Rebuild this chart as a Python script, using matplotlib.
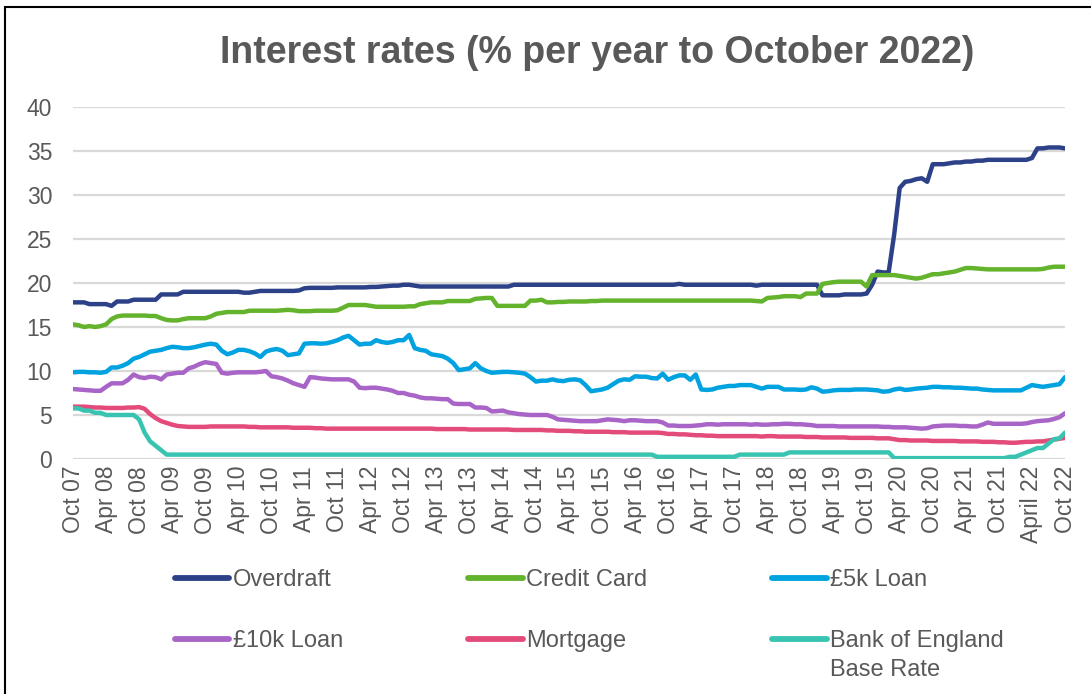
import numpy as np
import matplotlib.pyplot as plt
from matplotlib.patches import Rectangle

plt.rcParams['font.family'] = ['Liberation Sans', 'DejaVu Sans']

# Monthly values, Oct 2007 .. Oct 2022 (one row = Oct..Sep)
overdraft = [
    17.8, 17.8, 17.8, 17.6, 17.6, 17.6, 17.6, 17.4, 17.9, 17.9, 17.9, 18.1,
    18.1, 18.1, 18.1, 18.1, 18.7, 18.7, 18.7, 18.7, 19.0, 19.0, 19.0, 19.0,
    19.0, 19.0, 19.0, 19.0, 19.0, 19.0, 19.0, 18.9, 18.9, 19.0, 19.1, 19.1,
    19.1, 19.1, 19.1, 19.1, 19.1, 19.15, 19.4, 19.45, 19.45, 19.45, 19.45, 19.45,
    19.5, 19.5, 19.5, 19.5, 19.5, 19.5, 19.55, 19.55, 19.6, 19.65, 19.7, 19.7,
    19.8, 19.8, 19.7, 19.6, 19.6, 19.6, 19.6, 19.6, 19.6, 19.6, 19.6, 19.6,
    19.6, 19.6, 19.6, 19.6, 19.6, 19.6, 19.6, 19.6, 19.8, 19.8, 19.8, 19.8,
    19.8, 19.8, 19.8, 19.8, 19.8, 19.8, 19.8, 19.8, 19.8, 19.8, 19.8, 19.8,
    19.8, 19.8, 19.8, 19.8, 19.8, 19.8, 19.8, 19.8, 19.8, 19.8, 19.8, 19.8,
    19.8, 19.8, 19.9, 19.8, 19.8, 19.8, 19.8, 19.8, 19.8, 19.8, 19.8, 19.8,
    19.8, 19.8, 19.8, 19.8, 19.7, 19.8, 19.8, 19.8, 19.8, 19.8, 19.8, 19.8,
    19.8, 19.8, 19.8, 19.8, 18.6, 18.6, 18.6, 18.6, 18.7, 18.7, 18.7, 18.7,
    18.8, 19.8, 21.3, 21.2, 21.2, 25.5, 30.8, 31.5, 31.6, 31.8, 31.9, 31.5,
    33.5, 33.5, 33.5, 33.6, 33.7, 33.7, 33.8, 33.8, 33.9, 33.9, 34.0, 34.0,
    34.0, 34.0, 34.0, 34.0, 34.0, 34.0, 34.2, 35.3, 35.3, 35.4, 35.4, 35.4,
    35.3,
]
credit_card = [
    15.3, 15.2, 15.0, 15.1, 15.0, 15.1, 15.3, 15.9, 16.2, 16.3, 16.3, 16.3,
    16.3, 16.3, 16.25, 16.25, 16.0, 15.8, 15.75, 15.75, 15.9, 16.0, 16.0, 16.0,
    16.0, 16.2, 16.5, 16.6, 16.7, 16.7, 16.7, 16.7, 16.85, 16.85, 16.85, 16.85,
    16.85, 16.85, 16.9, 16.95, 16.9, 16.8, 16.8, 16.8, 16.85, 16.85, 16.85, 16.85,
    16.9, 17.2, 17.5, 17.5, 17.5, 17.5, 17.4, 17.3, 17.3, 17.3, 17.3, 17.3,
    17.3, 17.35, 17.35, 17.6, 17.7, 17.8, 17.8, 17.8, 17.95, 17.95, 17.95, 17.95,
    17.95, 18.2, 18.25, 18.3, 18.3, 17.4, 17.4, 17.4, 17.4, 17.4, 17.4, 18.0,
    18.0, 18.1, 17.8, 17.8, 17.85, 17.85, 17.9, 17.9, 17.9, 17.9, 17.95, 17.95,
    18.0, 18.0, 18.0, 18.0, 18.0, 18.0, 18.0, 18.0, 18.0, 18.0, 18.0, 18.0,
    18.0, 18.0, 18.0, 18.0, 18.0, 18.0, 18.0, 18.0, 18.0, 18.0, 18.0, 18.0,
    18.0, 18.0, 18.0, 18.0, 17.95, 17.9, 18.3, 18.35, 18.4, 18.5, 18.5, 18.5,
    18.4, 18.8, 18.8, 18.8, 19.9, 20.0, 20.1, 20.15, 20.15, 20.15, 20.15, 20.15,
    19.6, 20.9, 20.9, 20.9, 20.9, 20.9, 20.8, 20.7, 20.6, 20.5, 20.6, 20.8,
    21.0, 21.0, 21.1, 21.2, 21.3, 21.5, 21.7, 21.7, 21.65, 21.6, 21.55, 21.55,
    21.55, 21.55, 21.55, 21.55, 21.55, 21.55, 21.55, 21.55, 21.6, 21.75, 21.85, 21.85,
    21.85,
]
loan_5k = [
    9.85, 9.9, 9.9, 9.85, 9.85, 9.8, 9.9, 10.4, 10.4, 10.6, 10.9, 11.4,
    11.6, 11.9, 12.2, 12.3, 12.4, 12.6, 12.75, 12.7, 12.6, 12.6, 12.7, 12.85,
    13.0, 13.1, 13.0, 12.3, 11.9, 12.1, 12.4, 12.4, 12.25, 12.0, 11.6, 12.2,
    12.4, 12.5, 12.3, 11.8, 11.9, 12.0, 13.1, 13.15, 13.15, 13.1, 13.15, 13.3,
    13.5, 13.8, 14.0, 13.5, 13.0, 13.1, 13.1, 13.5, 13.3, 13.2, 13.3, 13.5,
    13.5, 14.1, 12.6, 12.4, 12.3, 11.9, 11.8, 11.7, 11.4, 10.9, 10.1, 10.2,
    10.3, 10.9, 10.3, 10.0, 9.8, 9.85, 9.9, 9.9, 9.85, 9.8, 9.7, 9.3,
    8.8, 8.9, 8.9, 9.05, 8.9, 8.85, 9.0, 9.05, 8.95, 8.4, 7.7, 7.8,
    7.9, 8.1, 8.5, 8.9, 9.05, 9.0, 9.4, 9.35, 9.35, 9.2, 9.15, 9.7,
    9.0, 9.3, 9.5, 9.5, 9.0, 9.6, 7.9, 7.85, 7.9, 8.1, 8.2, 8.3,
    8.3, 8.4, 8.4, 8.4, 8.2, 8.0, 8.2, 8.2, 8.2, 7.9, 7.9, 7.9,
    7.85, 7.9, 8.15, 8.0, 7.65, 7.7, 7.8, 7.85, 7.85, 7.85, 7.9, 7.9,
    7.9, 7.85, 7.8, 7.65, 7.7, 7.9, 8.0, 7.85, 7.9, 8.0, 8.05, 8.1,
    8.2, 8.2, 8.15, 8.15, 8.1, 8.1, 8.05, 8.0, 8.0, 7.9, 7.85, 7.8,
    7.8, 7.8, 7.8, 7.8, 7.8, 8.1, 8.4, 8.3, 8.2, 8.3, 8.4, 8.5,
    9.3,
]
loan_10k = [
    7.95, 7.9, 7.85, 7.8, 7.75, 7.75, 8.2, 8.6, 8.6, 8.6, 9.0, 9.6,
    9.3, 9.2, 9.35, 9.3, 9.05, 9.6, 9.7, 9.8, 9.8, 10.3, 10.5, 10.8,
    11.0, 10.9, 10.8, 9.8, 9.7, 9.8, 9.85, 9.85, 9.85, 9.85, 9.9, 10.0,
    9.4, 9.3, 9.15, 8.9, 8.6, 8.4, 8.2, 9.3, 9.25, 9.15, 9.1, 9.05,
    9.05, 9.05, 9.05, 8.8, 8.1, 8.05, 8.1, 8.1, 8.0, 7.9, 7.75, 7.5,
    7.5, 7.3, 7.2, 7.0, 6.9, 6.9, 6.85, 6.8, 6.8, 6.3, 6.25, 6.25,
    6.25, 5.85, 5.85, 5.8, 5.4, 5.45, 5.5, 5.3, 5.2, 5.1, 5.05, 5.0,
    5.0, 5.0, 5.0, 4.8, 4.5, 4.45, 4.4, 4.35, 4.3, 4.3, 4.3, 4.3,
    4.4, 4.5, 4.45, 4.4, 4.3, 4.4, 4.4, 4.35, 4.3, 4.3, 4.3, 4.15,
    3.8, 3.8, 3.75, 3.75, 3.75, 3.8, 3.85, 3.95, 3.95, 3.9, 3.95, 3.95,
    3.95, 3.95, 3.95, 3.9, 3.95, 3.9, 3.9, 3.95, 3.95, 4.0, 4.0, 3.95,
    3.95, 3.9, 3.85, 3.75, 3.75, 3.75, 3.75, 3.7, 3.7, 3.7, 3.7, 3.7,
    3.7, 3.7, 3.7, 3.65, 3.65, 3.6, 3.6, 3.6, 3.55, 3.5, 3.45, 3.5,
    3.7, 3.75, 3.8, 3.8, 3.8, 3.75, 3.75, 3.7, 3.7, 3.9, 4.15, 4.0,
    4.0, 4.0, 4.0, 4.0, 4.0, 4.05, 4.2, 4.3, 4.35, 4.4, 4.55, 4.75,
    5.2,
]
mortgage = [
    5.95, 5.95, 5.95, 5.9, 5.85, 5.85, 5.8, 5.8, 5.8, 5.8, 5.85, 5.85,
    5.9, 5.7, 5.1, 4.65, 4.3, 4.1, 3.9, 3.75, 3.7, 3.65, 3.65, 3.65,
    3.65, 3.7, 3.7, 3.7, 3.7, 3.7, 3.7, 3.7, 3.65, 3.65, 3.6, 3.6,
    3.6, 3.6, 3.6, 3.6, 3.55, 3.55, 3.55, 3.55, 3.5, 3.5, 3.45, 3.45,
    3.45, 3.45, 3.45, 3.45, 3.45, 3.45, 3.45, 3.45, 3.45, 3.45, 3.45, 3.45,
    3.45, 3.45, 3.45, 3.45, 3.45, 3.45, 3.4, 3.4, 3.4, 3.4, 3.4, 3.4,
    3.35, 3.35, 3.35, 3.35, 3.35, 3.35, 3.35, 3.35, 3.3, 3.3, 3.3, 3.3,
    3.3, 3.3, 3.25, 3.25, 3.2, 3.2, 3.2, 3.15, 3.15, 3.1, 3.1, 3.1,
    3.1, 3.1, 3.05, 3.05, 3.05, 3.0, 3.0, 3.0, 3.0, 3.0, 3.0, 2.95,
    2.85, 2.85, 2.8, 2.8, 2.75, 2.7, 2.7, 2.65, 2.65, 2.6, 2.6, 2.6,
    2.6, 2.6, 2.6, 2.6, 2.6, 2.55, 2.6, 2.6, 2.55, 2.55, 2.55, 2.55,
    2.55, 2.5, 2.5, 2.5, 2.45, 2.45, 2.45, 2.45, 2.45, 2.4, 2.4, 2.4,
    2.4, 2.4, 2.35, 2.35, 2.35, 2.25, 2.15, 2.15, 2.1, 2.1, 2.1, 2.1,
    2.05, 2.05, 2.05, 2.05, 2.05, 2.0, 2.0, 2.0, 2.0, 1.95, 1.95, 1.95,
    1.9, 1.9, 1.85, 1.85, 1.9, 1.95, 1.95, 2.0, 2.0, 2.1, 2.2, 2.3,
    2.4,
]
base_rate = [
    5.75, 5.75, 5.5, 5.5, 5.25, 5.25, 5.0, 5.0, 5.0, 5.0, 5.0, 5.0,
    4.5, 3.0, 2.0, 1.5, 1.0, 0.5, 0.5, 0.5, 0.5, 0.5, 0.5, 0.5,
    0.5, 0.5, 0.5, 0.5, 0.5, 0.5, 0.5, 0.5, 0.5, 0.5, 0.5, 0.5,
    0.5, 0.5, 0.5, 0.5, 0.5, 0.5, 0.5, 0.5, 0.5, 0.5, 0.5, 0.5,
    0.5, 0.5, 0.5, 0.5, 0.5, 0.5, 0.5, 0.5, 0.5, 0.5, 0.5, 0.5,
    0.5, 0.5, 0.5, 0.5, 0.5, 0.5, 0.5, 0.5, 0.5, 0.5, 0.5, 0.5,
    0.5, 0.5, 0.5, 0.5, 0.5, 0.5, 0.5, 0.5, 0.5, 0.5, 0.5, 0.5,
    0.5, 0.5, 0.5, 0.5, 0.5, 0.5, 0.5, 0.5, 0.5, 0.5, 0.5, 0.5,
    0.5, 0.5, 0.5, 0.5, 0.5, 0.5, 0.5, 0.5, 0.5, 0.5, 0.25, 0.25,
    0.25, 0.25, 0.25, 0.25, 0.25, 0.25, 0.25, 0.25, 0.25, 0.25, 0.25, 0.25,
    0.25, 0.5, 0.5, 0.5, 0.5, 0.5, 0.5, 0.5, 0.5, 0.5, 0.75, 0.75,
    0.75, 0.75, 0.75, 0.75, 0.75, 0.75, 0.75, 0.75, 0.75, 0.75, 0.75, 0.75,
    0.75, 0.75, 0.75, 0.75, 0.75, 0.1, 0.1, 0.1, 0.1, 0.1, 0.1, 0.1,
    0.1, 0.1, 0.1, 0.1, 0.1, 0.1, 0.1, 0.1, 0.1, 0.1, 0.1, 0.1,
    0.1, 0.1, 0.25, 0.25, 0.5, 0.75, 1.0, 1.25, 1.25, 1.75, 2.25, 2.35,
    3.0,
]

tick_labels = ["Oct 07", "Apr 08", "Oct 08", "Apr 09", "Oct 09", "Apr 10", "Oct 10",
               "Apr 11", "Oct 11", "Apr 12", "Oct 12", "Apr 13", "Oct 13", "Apr 14",
               "Oct 14", "Apr 15", "Oct 15", "Apr 16", "Oct 16", "Apr 17", "Oct 17",
               "Apr 18", "Oct 18", "Apr 19", "Oct 19", "Apr 20", "Oct 20", "Apr 21",
               "Oct 21", "April 22", "Oct 22"]

series = [
    ("Overdraft", overdraft, "#2c4188"),
    ("Credit Card", credit_card, "#63b32c"),
    ("£5k Loan", loan_5k, "#00a2df"),
    ("£10k Loan", loan_10k, "#a864c6"),
    ("Mortgage", mortgage, "#e24b7a"),
    ("Bank of England", base_rate, "#38c4b0"),
]

grey = "#595959"
W, H = 1091, 694
fig = plt.figure(figsize=(W / 100, H / 100), dpi=100)
ax = fig.add_axes([73 / W, 235 / H, 992 / W, 352 / H])

lines = []
for name, vals, col in series:
    x = np.arange(len(vals))
    ln, = ax.plot(x, vals, color=col, lw=3.2, label=name, solid_capstyle="round",
                  solid_joinstyle="round")
    lines.append(ln)

ax.set_xlim(0, len(overdraft) - 1)
ax.set_ylim(0, 40)
ax.set_yticks(range(0, 41, 5))
ax.set_xticks(np.arange(0, len(overdraft), 6))
ax.set_xticklabels(tick_labels, rotation=90)
ax.yaxis.grid(True, color="#d9d9d9", lw=1.6)
ax.set_axisbelow(True)
for s in ax.spines.values():
    s.set_visible(False)
ax.tick_params(axis="both", length=0, labelsize=16.5, colors=grey)
ax.tick_params(axis="y", pad=15)
ax.tick_params(axis="x", pad=5)

fig.text(597 / W, 1 - 53 / H, "Interest rates (% per year to October 2022)",
         ha="center", va="center", fontsize=27, fontweight="bold", color=grey)

# legend laid out row-wise (matplotlib fills columns first)
order = [0, 3, 1, 4, 2, 5]
leg = fig.legend([lines[i] for i in order], [series[i][0] for i in order],
                 loc="upper left", bbox_to_anchor=(175 / W, 1 - 569 / H),
                 ncol=3, frameon=False, fontsize=17, labelcolor=grey,
                 handlelength=2.3, handletextpad=0.15, columnspacing=5.3,
                 labelspacing=1.65, borderpad=0, borderaxespad=0)
for h in leg.legend_handles:
    h.set_linewidth(4.2)

# second line of the last legend label
fig.canvas.draw()
bb = leg.get_texts()[5].get_window_extent()
fig.text(bb.x0 / W, (bb.y0 - 29) / H, "Base Rate", fontsize=17, color=grey,
         ha="left", va="bottom")

fig.patches.append(Rectangle((5 / W, -0.1), 1.2, 1.1 - 7 / H,
                             transform=fig.transFigure, fill=False,
                             ec="black", lw=1.5))

fig.savefig("out.png", dpi=100)
